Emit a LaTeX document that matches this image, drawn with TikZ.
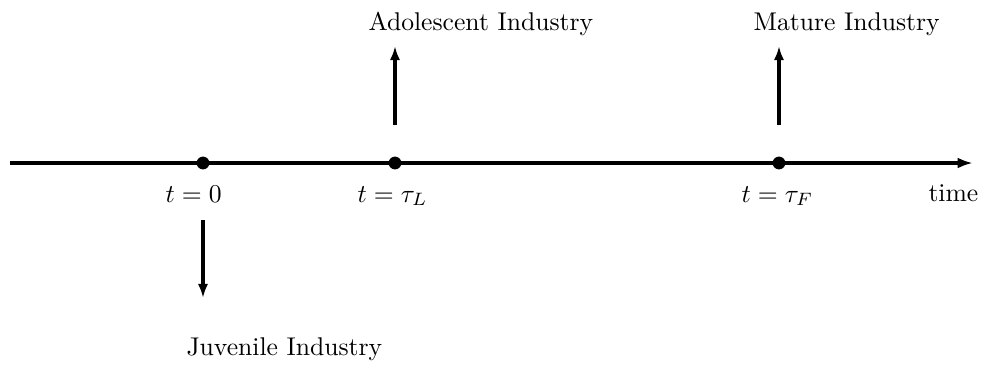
\documentclass[tikz,border=0pt]{standalone}
\usetikzlibrary{arrows.meta}
\begin{document}
\begin{tikzpicture}[x=0.39pt,y=-0.39pt,
  axis/.style={line width=1.2pt,-{Latex[length=6pt,width=4.2pt]}},
  evarrow/.style={line width=1.2pt,-{Latex[length=5.5pt,width=4pt]}},
  dot/.style={circle,fill=black,inner sep=0pt,minimum size=5pt},
  lbl/.style={inner sep=0pt,anchor=base west}]
\useasboundingbox (0,0) rectangle (984,366);
\coordinate (a0) at (10,163);
\coordinate (a1) at (973,163);
\draw[axis] (a0) -- (a1);
\node[dot] (p0) at (203,163) {};
\node[dot] (pL) at (395,163) {};
\node[dot] (pF) at (779,163) {};
\node[lbl] (l0) at (165,202) {$t=0$};
\node[lbl] (lL) at (357,202) {$t=\tau_L$};
\node[lbl] (lF) at (741,202) {$t=\tau_F$};
\node[lbl] (lt) at (928,201) {time};
\coordinate (d0s) at (203,220);
\coordinate (d0e) at (203,298);
\draw[evarrow] (d0s) -- (d0e);
\coordinate (uLs) at (395,125);
\coordinate (uLe) at (395,46);
\draw[evarrow] (uLs) -- (uLe);
\coordinate (uFs) at (779,125);
\coordinate (uFe) at (779,46);
\draw[evarrow] (uFs) -- (uFe);
\node[lbl] (juv) at (186,355) {Juvenile Industry};
\node[lbl] (ado) at (368,30) {Adolescent Industry};
\node[lbl] (mat) at (753,30) {Mature Industry};
\end{tikzpicture}
\end{document}
